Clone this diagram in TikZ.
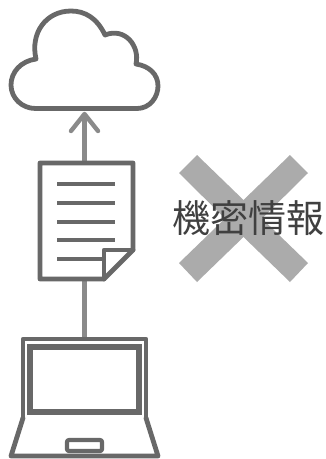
\documentclass[tikz,border=0pt]{standalone}
\usepackage{fontspec}
\newfontfamily\cjk{Noto Sans CJK JP}
\definecolor{ic}{HTML}{686868}
\definecolor{conn}{HTML}{8A8A8A}
\definecolor{xc}{HTML}{ABABAB}
\tikzset{
  icon/.style={draw=ic,line width=4.8pt,line join=round,line cap=round},
  thin icon/.style={draw=ic,line width=4.2pt,line join=round,line cap=round},
  link/.style={draw=conn,line width=4.4pt,line join=round},
  mark x/.style={fill=xc,draw=none}
}
\begin{document}
\begin{tikzpicture}[x=1pt,y=-1pt]
\useasboundingbox (0,0) rectangle (326,459);
\fill[white] (0,0) rectangle (326,459);
% connection points
\coordinate (cloudB) at (84.5,114);
\coordinate (docT) at (84.5,163);
\coordinate (docB) at (84.5,279);
\coordinate (lapT) at (84.5,339);
\coordinate (headL) at (71,131);
\coordinate (headR) at (98,131);
% connectors
\draw[link] (docT) -- (cloudB);
\draw[link,line cap=round] (headL) -- (cloudB) -- (headR);
\draw[link] (docB) -- (lapT);
% cloud
\draw[icon,fill=white]
  (35.5,108.5) -- (137,108.5)
  .. controls (150,108.5) and (158,97) .. (158,86)
  .. controls (158,74) and (149,66) .. (136,64)
  .. controls (140,46) and (125,27) .. (105,35)
  .. controls (97,18) and (85,11) .. (71,11)
  .. controls (46,11) and (30,33) .. (36,59)
  .. controls (21,61) and (11,72) .. (11,85)
  .. controls (11,98) and (22,108.5) .. (35.5,108.5) -- cycle;
% document
\draw[icon,fill=white] (40,163) -- (133,163) -- (133,250) -- (104,279) -- (40,279) -- cycle;
\draw[icon] (104,279) -- (104,250) -- (133,250);
\foreach \y in {184,203,222,240} \draw[thin icon,line cap=butt] (57,\y) -- (115,\y);
\draw[thin icon,line cap=butt] (57,259) -- (104,259);
% laptop
\draw[icon,fill=white] (23,418) -- (23,339) -- (146,339) -- (146,418);
\draw[icon,line width=6pt,line cap=butt,line join=miter] (30,346.5) rectangle (139,411.5);
\draw[icon] (23,418) -- (11,456) -- (158,456) -- (146,418);
\draw[thin icon,rounded corners=2pt] (67,440) rectangle (102,451);
% cross
\fill[mark x] (197,155) -- (243.5,200) -- (290,155) -- (308,173) -- (262,218.5) -- (308,263) -- (290,282) -- (243.5,237) -- (197,282) -- (179,263) -- (225,218.5) -- (179,173) -- cycle;
% label
\node[inner sep=0pt,text=black!75] (label) at (248.7,218.5) {\cjk\fontsize{38pt}{38pt}\selectfont 機密情報};
\end{tikzpicture}
\end{document}
